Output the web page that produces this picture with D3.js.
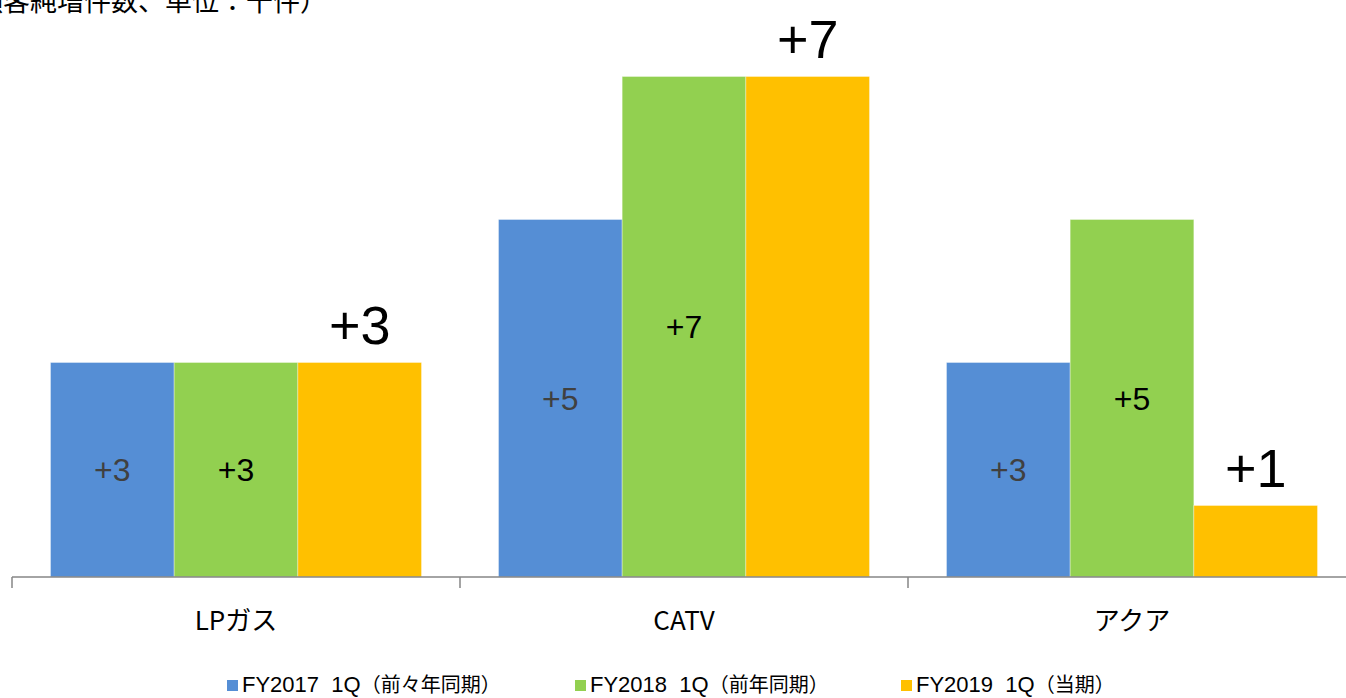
<!DOCTYPE html>
<html>
<head>
<meta charset="utf-8">
<script src="https://cdn.jsdelivr.net/npm/d3@7"></script>
<style>
  body { margin: 0; background: #fff; }
  svg { display: block; }
</style>
</head>
<body>
<svg id="chart" width="1346" height="698"></svg>
<script>
// chart data
var categories = ['LPガス', 'CATV', 'アクア'];
var seriesLatin = ['FY2017  1Q', 'FY2018  1Q', 'FY2019  1Q'];
var seriesJa = ['（前々年同期）', '（前年同期）', '（当期）'];
var fy2017 = [3, 5, 3];
var fy2018 = [3, 7, 5];
var fy2019 = [3, 7, 1];
var colors = ['#558ED5', '#92D050', '#FFC000'];
var title = '（顧客純増件数、単位：千件）';

var series = [fy2017, fy2018, fy2019];

var svg = d3.select('#chart');

/*********** scales ***********/
var x0 = d3.scaleBand().domain(categories).range([12, 1356]).padding(0);
var gap = 38.5;
var x1 = d3.scaleBand().domain([0, 1, 2]).range([gap, x0.bandwidth() - gap]).padding(0);
var y = d3.scaleLinear().domain([0, 8]).range([577, 5]);

/*********** title (cut off at top like the original) ***********/
svg.append('text')
  .attr('x', -51).attr('y', 11)
  .style('font-family', '"Noto Sans CJK JP", sans-serif')
  .style('font-size', '27px')
  .style('fill', '#000')
  .text(title);

/*********** bars ***********/
var groups = svg.selectAll('g.cat')
  .data(categories)
  .enter().append('g')
  .attr('class', 'cat')
  .attr('transform', function (d) { return 'translate(' + x0(d) + ',0)'; });

groups.each(function (cat, ci) {
  var g = d3.select(this);
  series.forEach(function (s, si) {
    var v = s[ci];
    g.append('rect')
      .attr('x', x1(si))
      .attr('y', y(v))
      .attr('width', x1.bandwidth())
      .attr('height', y(0) - y(v))
      .style('fill', colors[si])
      .style('stroke', '#fff')
      .style('stroke-opacity', 0.35)
      .style('stroke-width', 1);

    var cx = x1(si) + x1.bandwidth() / 2;
    if (si < 2) {
      g.append('text')
        .attr('x', cx)
        .attr('y', (y(v) + y(0)) / 2)
        .attr('dy', '0.36em')
        .attr('text-anchor', 'middle')
        .style('font-family', '"Liberation Sans", Arial, sans-serif')
        .style('font-size', '32px')
        .style('fill', si === 0 ? '#404040' : '#000')
        .text('+' + v);
    } else {
      g.append('text')
        .attr('x', cx)
        .attr('y', y(v) - 19)
        .attr('text-anchor', 'middle')
        .style('font-family', '"Liberation Sans", Arial, sans-serif')
        .style('font-size', '54px')
        .style('fill', '#000')
        .text('+' + v);
    }
  });
});

/*********** x axis ***********/
var axis = svg.append('g');
axis.append('line')
  .attr('x1', 12).attr('x2', 1356)
  .attr('y1', y(0)).attr('y2', y(0))
  .style('stroke', '#868686').style('stroke-width', 1.5);

var tickX = categories.map(function (c) { return x0(c); }).concat([x0.range()[1]]);
axis.selectAll('line.tick')
  .data(tickX)
  .enter().append('line')
  .attr('class', 'tick')
  .attr('x1', function (d) { return d; }).attr('x2', function (d) { return d; })
  .attr('y1', y(0)).attr('y2', y(0) + 11)
  .style('stroke', '#868686').style('stroke-width', 1.5);

axis.selectAll('text.cat')
  .data(categories)
  .enter().append('text')
  .attr('class', 'cat')
  .attr('x', function (d) { return x0(d) + x0.bandwidth() / 2; })
  .attr('y', 630)
  .attr('text-anchor', 'middle')
  .style('font-family', '"Noto Sans CJK JP", sans-serif')
  .style('font-size', '26px')
  .style('fill', '#000')
  .text(function (d) { return d; });

/*********** legend ***********/
var legendX = [227, 575, 901];
var legend = svg.selectAll('g.legend')
  .data(seriesLatin)
  .enter().append('g')
  .attr('class', 'legend')
  .attr('transform', function (d, i) { return 'translate(' + legendX[i] + ',692)'; });

legend.append('rect')
  .attr('x', 0).attr('y', -12)
  .attr('width', 11).attr('height', 11)
  .style('fill', function (d, i) { return colors[i]; });

var lt = legend.append('text')
  .attr('x', 15).attr('y', 0)
  .style('white-space', 'pre')
  .style('fill', '#000');
lt.append('tspan')
  .style('font-family', '"Liberation Sans", Arial, sans-serif')
  .style('font-size', '22px')
  .text(function (d) { return d; });
lt.append('tspan')
  .style('font-family', '"Noto Sans CJK JP", sans-serif')
  .style('font-size', '20px')
  .text(function (d, i) { return seriesJa[i]; });
</script>
</body>
</html>
